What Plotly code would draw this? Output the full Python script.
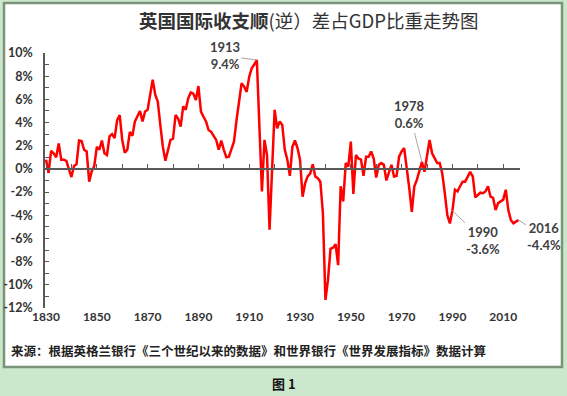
import plotly.graph_objects as go

years = list(range(1830, 2017))
balance_pct = [
    0.8, -0.35, 1.55, 1.35, 1.0, 2.2, 0.8, 0.8, 0.7, -0.1,            # 1830-1839
    -0.7, 0.25, 0.4, 2.45, 2.4, 1.65, 1.5, -1.1, -0.2, 0.25,           # 1840-1849
    1.9, 1.65, 2.45, 1.35, 1.2, 2.8, 3.0, 2.65, 4.2, 4.65,             # 1850-1859
    2.5, 1.4, 1.65, 3.2, 2.85, 4.1, 4.5, 5.0, 4.1, 4.95,               # 1860-1869
    5.1, 6.4, 7.7, 6.4, 5.8, 3.8, 1.9, 0.7, 1.65, 2.5,                 # 1870-1879
    2.6, 4.65, 4.35, 3.65, 5.4, 5.1, 6.1, 6.6, 6.5, 5.95,              # 1880-1889
    7.15, 4.95, 4.5, 4.1, 3.35, 3.2, 2.85, 2.5, 1.65, 2.45,            # 1890-1899
    1.65, 1.0, 1.05, 1.65, 2.35, 4.2, 5.8, 7.4, 7.1, 6.65,             # 1900-1909
    7.95, 8.7, 9.0, 9.4, 3.7, -1.95, 2.5, 1.2, -5.25, 0.0,             # 1910-1919
    5.1, 3.5, 4.1, 3.8, 1.65, 0.8, -0.6, 1.9, 2.45, 1.8,               # 1920-1929
    0.8, -2.4, -1.25, -0.65, -0.4, 0.4, -0.65, -0.8, -1.1, -3.8,       # 1930-1939
    -11.3, -9.6, -6.9, -6.8, -6.5, -8.3, -1.5, -2.8, 0.5, 0.2,         # 1940-1949
    2.35, -2.15, 1.2, 0.9, 0.8, -0.6, 1.05, 1.05, 1.5, 0.9,            # 1950-1959
    -0.75, 0.35, 0.5, 0.35, -1.0, -0.3, 0.35, -0.65, -0.6, 1.05,       # 1960-1969
    1.5, 1.8, 0.2, -1.65, -3.7, -1.5, -0.95, -0.1, 0.6, -0.25,         # 1970-1979
    1.2, 2.5, 1.35, 0.9, 0.5, 0.5, -0.4, -2.1, -4.0, -4.7,             # 1980-1989
    -3.6, -1.8, -1.95, -1.5, -1.1, -1.1, -0.65, -0.25, -0.65, -2.45,   # 1990-1999
    -2.25, -2.05, -2.1, -1.95, -1.5, -2.4, -2.5, -3.55, -2.95, -2.8,   # 2000-2009
    -2.65, -1.8, -3.55, -4.4, -4.7, -4.55, -4.4,                       # 2010-2016
]

x_tick_years = list(range(1830, 2011, 20))
y_tick_vals = list(range(-12, 11, 2))
y_tick_text = [f"{v}%" for v in y_tick_vals]

callout_years = [1913, 1978, 1990, 2016]
callout_text = ["1913<br>9.4%", "1978<br>0.6%", "1990<br>-3.6%", "2016<br>-4.4%"]
callout_ax = [-32, -12, 31, 26]
callout_ay = [-4, -47, 30, 17]

title_html = "<b>英国国际收支顺</b>(逆）差占GDP比重走势图"
source_text = "来源：根据英格兰银行《三个世纪以来的数据》和世界银行《世界发展指标》数据计算"
caption_text = "图 1"

CJK = "Noto Sans CJK SC"
NUM = "Lato, Noto Sans CJK SC"
TXT = "#333333"

fig = go.Figure()
fig.add_trace(go.Scatter(
    x=years, y=balance_pct, mode="lines",
    line=dict(color="#ff0000", width=2.5),
    hoverinfo="x+y", showlegend=False,
))
fig.add_trace(go.Scatter(x=[years[0]], y=[0], xaxis="x2", mode="markers",
                         marker=dict(opacity=0), showlegend=False, hoverinfo="skip"))

XR = [1829.6, 2016.6]
fig.update_layout(
    width=567, height=396,
    margin=dict(l=45, r=47, t=53, b=88),
    paper_bgcolor="#cce8cc",
    plot_bgcolor="white",
    xaxis=dict(
        range=XR, anchor="free", position=12/22, automargin=False,
        showline=True, linecolor="#595959", linewidth=2,
        ticks="inside", ticklen=4, tickcolor="#595959", tickwidth=1,
        dtick=10, tick0=1830, showticklabels=False, showgrid=False, zeroline=False,
    ),
    xaxis2=dict(
        range=XR, overlaying="x", anchor="y", side="bottom", automargin=False,
        tickvals=x_tick_years, ticktext=[str(y) for y in x_tick_years],
        tickfont=dict(family=NUM, size=12, color=TXT, weight="bold"),
        showline=False, ticks="", showgrid=False, zeroline=False,
    ),
    yaxis=dict(
        range=[-12, 10], anchor="x", automargin=False,
        tickvals=y_tick_vals, ticktext=y_tick_text,
        tickfont=dict(family=NUM, size=12.5, color=TXT, weight="bold"),
        showline=True, linecolor="#595959", linewidth=1.5,
        ticks="inside", ticklen=4, tickcolor="#595959",
        minor=dict(dtick=1, ticks="inside", ticklen=4, tickcolor="#595959"),
        showgrid=False, zeroline=False, ticklabelstandoff=8,
    ),
)

def px_x(p):
    return (p - 45) / 475
def px_y(p):
    return (308 - p) / 255

fig.add_shape(type="rect", xref="paper", yref="paper",
              x0=px_x(4), x1=px_x(562), y0=px_y(367), y1=px_y(3),
              fillcolor="white", line=dict(color="#7a947a", width=2.5), layer="below")

fig.add_annotation(xref="paper", yref="paper", x=px_x(308), y=px_y(20),
                   xanchor="center", yanchor="middle",
                   text=title_html, showarrow=False,
                   font=dict(family=CJK, size=18.5, color=TXT))
fig.add_annotation(xref="paper", yref="paper", x=px_x(9), y=px_y(350),
                   xanchor="left", yanchor="middle", text=source_text, showarrow=False,
                   font=dict(family=CJK, size=12.5, color="#222222", weight="bold"))
fig.add_annotation(xref="paper", yref="paper", x=px_x(284), y=px_y(383),
                   xanchor="center", yanchor="middle",
                   text=caption_text, showarrow=False,
                   font=dict(family=CJK, size=13, color="#111111", weight="bold"))

for yr, txt, ax, ay in zip(callout_years, callout_text, callout_ax, callout_ay):
    fig.add_annotation(x=yr, y=balance_pct[years.index(yr)], xref="x", yref="y",
                       text=txt, showarrow=True, arrowhead=0, arrowwidth=1,
                       arrowcolor="#a6a6a6", ax=ax, ay=ay,
                       font=dict(family=NUM, size=13, color="#404040", weight="bold"))

fig.write_html("out.html",
               config={"displayModeBar": False},
               post_script="document.body.style.margin='0';document.body.style.overflow='hidden';")
